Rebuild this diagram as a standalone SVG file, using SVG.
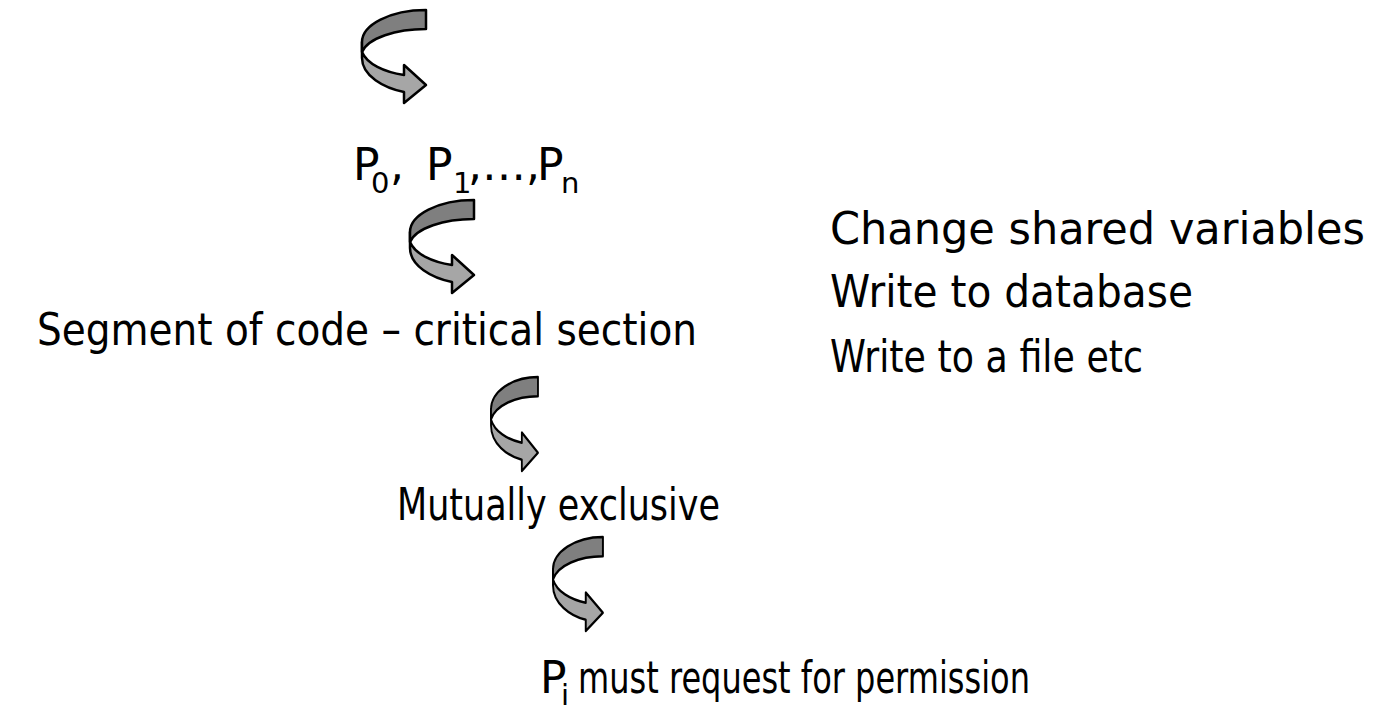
<svg xmlns="http://www.w3.org/2000/svg" xmlns:xlink="http://www.w3.org/1999/xlink" width="1385" height="724" viewBox="0 0 1385 724">
  <style>
    .t { font-family: "DejaVu Sans", "Liberation Sans", sans-serif; font-size: 44px; fill: #000; }
    .sub { font-size: 29px; }
    .back { fill: #7f7f7f; stroke: #000; stroke-width: 2.5; stroke-linejoin: round; }
    .front { fill: #a6a6a6; stroke: #000; stroke-width: 2.5; stroke-linejoin: round; }
  </style>
  <defs>
    <!-- twisted ribbon arrow, drawn in a 64 x 93 box -->
    <g id="turn">
      <path class="front" d="M0,32 L0,48 C0,66 22,78 42,82 L42,93 L64,75 L42,55 L42,65 C22,62 5,54 0,42 Z"/>
      <path class="back" d="M64,0 C28,0 0,15 0,32 L0,42 C6,28 34,19 64,19 Z"/>
    </g>
  </defs>
  <rect width="1385" height="724" fill="#fff"/>

  <g id="connectors">
    <use xlink:href="#turn" transform="translate(362,10)"/>
    <use xlink:href="#turn" transform="translate(410,200)"/>
    <use xlink:href="#turn" transform="translate(491,377) scale(0.734,1.01)"/>
    <use xlink:href="#turn" transform="translate(553,537) scale(0.78,1.01)"/>
  </g>

  <g id="processes">
    <text class="t" y="180"><tspan x="353">P</tspan><tspan class="sub" x="371" y="193">0</tspan><tspan x="390" y="180">,</tspan><tspan x="426">P</tspan><tspan class="sub" x="453" y="193">1</tspan><tspan x="468" y="180">,…,</tspan><tspan x="537">P</tspan><tspan class="sub" x="561" y="193">n</tspan></text>
  </g>

  <g id="critical-section">
    <text class="t" x="37" y="345" textLength="660" lengthAdjust="spacingAndGlyphs">Segment of code – critical section</text>
  </g>

  <g id="examples">
    <text class="t" x="830" y="244" textLength="535" lengthAdjust="spacingAndGlyphs">Change shared variables</text>
    <text class="t" x="830" y="307" textLength="363" lengthAdjust="spacingAndGlyphs">Write to database</text>
    <text class="t" x="830" y="372" textLength="313" lengthAdjust="spacingAndGlyphs">Write to a file etc</text>
  </g>

  <g id="mutual-exclusion">
    <text class="t" x="397" y="520" textLength="323" lengthAdjust="spacingAndGlyphs">Mutually exclusive</text>
  </g>

  <g id="permission">
    <text class="t" y="693"><tspan x="540">P</tspan><tspan class="sub" x="561" y="705">i </tspan><tspan x="578" y="693" textLength="452" lengthAdjust="spacingAndGlyphs">must request for permission</tspan></text>
  </g>
</svg>
